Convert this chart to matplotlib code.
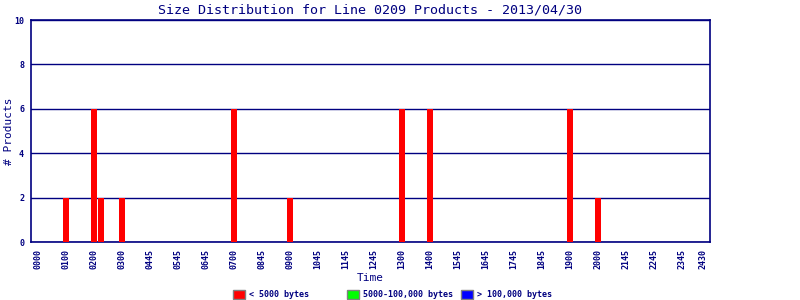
import matplotlib.pyplot as plt
from matplotlib.patches import Rectangle

# bar times (HHMM) and product counts
times = ["0100", "0200", "0215", "0300", "0700", "0900", "1300", "1400", "1900", "2000"]
small = [2, 6, 2, 2, 6, 2, 6, 6, 6, 2]
medium = [0, 0, 0, 0, 0, 0, 0, 0, 0, 0]
large = [0, 0, 0, 0, 0, 0, 0, 0, 0, 0]

tick_labels = ["0000", "0100", "0200", "0300", "0445", "0545", "0645", "0700", "0845",
               "0900", "1045", "1145", "1245", "1300", "1400", "1545", "1645", "1745",
               "1845", "1900", "2000", "2145", "2245", "2345", "2430"]
tick_pos = list(range(24)) + [23.75]

legend_labels = ["< 5000 bytes", "5000-100,000 bytes", "> 100,000 bytes"]
colors = ["#ff0000", "#00ff00", "#0000ff"]
navy = "#000080"
mono = "DejaVu Sans Mono"


def to_hours(t):
    return int(t[:2]) + int(t[2:]) / 60.0


x = [to_hours(t) for t in times]
fig = plt.figure(figsize=(8, 3), dpi=100)
ax = fig.add_axes([31 / 800, 58 / 300, 679 / 800, 222 / 300])

bottom2 = [a + b for a, b in zip(small, medium)]
ax.bar(x, small, width=0.22, color=colors[0], zorder=3)
ax.bar(x, medium, width=0.22, bottom=small, color=colors[1], zorder=3)
ax.bar(x, large, width=0.22, bottom=bottom2, color=colors[2], zorder=3)

ax.set_xlim(-0.25, 24)
ax.set_ylim(0, 10)
ax.set_yticks([0, 2, 4, 6, 8, 10])
ax.set_yticklabels(["0", "2", "4", "6", "8", "10"], fontfamily=mono, fontsize=6,
                   fontweight="bold", color=navy)
ax.set_xticks(tick_pos)
ax.set_xticklabels(tick_labels, rotation=90, fontfamily=mono, fontsize=6,
                   fontweight="bold", color=navy)
ax.tick_params(length=0, pad=5)
ax.grid(axis="y", color=navy, linewidth=1, zorder=1)
for s in ax.spines.values():
    s.set_color(navy)
    s.set_linewidth(1.2)

ax.set_title("Size Distribution for Line 0209 Products - 2013/04/30",
             fontfamily=mono, fontsize=9.6, color=navy, pad=5)
fig.text(9 / 800, 1 - 131 / 300, "# Products", fontfamily=mono, fontsize=8,
         color=navy, ha="center", va="center", rotation=90)
fig.text(370 / 800, 1 - 278 / 300, "Time", fontfamily=mono, fontsize=8,
         color=navy, ha="center", va="center")

for i, (lab, c) in enumerate(zip(legend_labels, colors)):
    x0 = (233 + 114 * i) / 800
    fig.patches.append(Rectangle((x0, 1 - 299 / 300), 12 / 800, 9 / 300,
                                 transform=fig.transFigure, facecolor=c,
                                 edgecolor="#808080", linewidth=1))
    fig.text(x0 + 16 / 800, 1 - 294.5 / 300, lab, fontfamily=mono, fontsize=6,
             fontweight="bold", color=navy, va="center")

fig.savefig("out.png", dpi=100)
